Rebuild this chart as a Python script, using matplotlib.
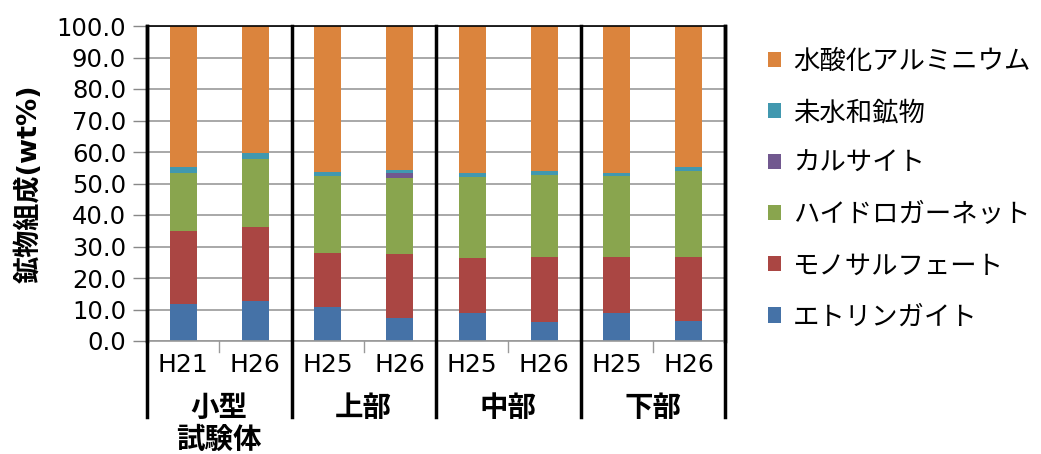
import matplotlib
matplotlib.use("Agg")
import matplotlib.pyplot as plt
from matplotlib.transforms import blended_transform_factory

plt.rcParams['font.family'] = ['DejaVu Sans', 'Noto Sans CJK JP']

# Sample labels (year) and their groups
years = ["H21", "H26", "H25", "H26", "H25", "H26", "H25", "H26"]
groups = ["小型\n試験体", "上部", "中部", "下部"]

# Mineral composition (wt%), bottom to top
ettringite = [11.8, 12.6, 10.8, 7.3, 8.9, 6.0, 8.9, 6.4]
monosulfate = [23.2, 23.6, 17.2, 20.3, 17.5, 20.7, 17.8, 20.3]
hydrogarnet = [18.3, 21.5, 24.4, 24.1, 25.7, 25.9, 25.7, 27.2]
calcite = [0.0, 0.0, 0.0, 1.6, 0.0, 0.0, 0.0, 0.0]
unhydrated = [2.0, 1.9, 1.3, 1.0, 1.3, 1.4, 1.0, 1.4]
al_hydroxide = [44.7, 40.4, 46.3, 45.7, 46.6, 46.0, 46.6, 44.7]

series = [
    ("エトリンガイト", ettringite, "#4572A7"),
    ("モノサルフェート", monosulfate, "#AA4643"),
    ("ハイドロガーネット", hydrogarnet, "#89A54E"),
    ("カルサイト", calcite, "#71588F"),
    ("未水和鉱物", unhydrated, "#4198AF"),
    ("水酸化アルミニウム", al_hydroxide, "#DB843D"),
]

fig = plt.figure(figsize=(10.41, 4.54), dpi=100)
ax = fig.add_axes([147 / 1041, 1 - 341 / 454, (725 - 147) / 1041, (341 - 26) / 454])

x = list(range(len(years)))
bottom = [0.0] * len(years)
handles = []
for name, vals, color in series:
    bc = ax.bar(x, vals, width=0.375, bottom=bottom, color=color,
                label=name, zorder=2)
    handles.append(bc)
    bottom = [b + v for b, v in zip(bottom, vals)]

ax.set_xlim(-0.5, len(years) - 0.5)
ax.set_ylim(0, 100)
ax.set_yticks(range(0, 101, 10))
ax.set_yticklabels([f"{v:.1f}" for v in range(0, 101, 10)], fontsize=17.5)
ax.yaxis.grid(True, color="#999999", linewidth=1.2, zorder=0)
ax.set_axisbelow(True)
ax.tick_params(axis="y", direction="out", length=10, width=1, color="#888888", pad=5)
ax.tick_params(axis="x", length=0)
ax.set_xticks([])

ax.spines["left"].set_linewidth(2.5)
ax.spines["left"].set_color("black")
ax.spines["right"].set_linewidth(2.5)
ax.spines["right"].set_color("black")
ax.spines["top"].set_linewidth(1.2)
ax.spines["top"].set_color("black")
ax.spines["bottom"].set_linewidth(1.2)
ax.spines["bottom"].set_color("#999999")

ax.set_ylabel("鉱物組成(wt%)", fontsize=19.5, fontweight="bold", labelpad=10)

trans = blended_transform_factory(ax.transData, ax.transAxes)

# Year labels under each bar
for xi, lab in zip(x, years):
    ax.text(xi, -0.075, lab, transform=trans, ha="center", va="center",
            fontsize=18)

# Minor ticks between the two bars of a group
for g in range(len(groups)):
    xm = 2 * g + 0.5
    ax.plot([xm, xm], [0, -0.035], transform=trans, color="#999999",
            linewidth=1, clip_on=False)

# Group separators running through the plot and label band
for g in range(len(groups) + 1):
    xs = 2 * g - 0.5
    ax.plot([xs, xs], [1.0, -0.241], transform=trans, color="black",
            linewidth=2.5, clip_on=False, zorder=3)

# Group labels
for g, lab in enumerate(groups):
    lines = lab.split("\n")
    for k, line in enumerate(lines):
        ax.text(2 * g + 0.5, -0.213 - 0.1 * k, line, transform=trans,
                ha="center", va="center", fontsize=20.5, fontweight="bold")

fig.legend(handles[::-1], [s[0] for s in series][::-1],
           loc="upper left", bbox_to_anchor=(768 / 1041, 1 - 49 / 454),
           frameon=False, fontsize=19, handlelength=0.5, handleheight=0.5,
           handletextpad=0.45, labelspacing=0.95, borderpad=0, borderaxespad=0)

fig.savefig("out.png", dpi=100)
